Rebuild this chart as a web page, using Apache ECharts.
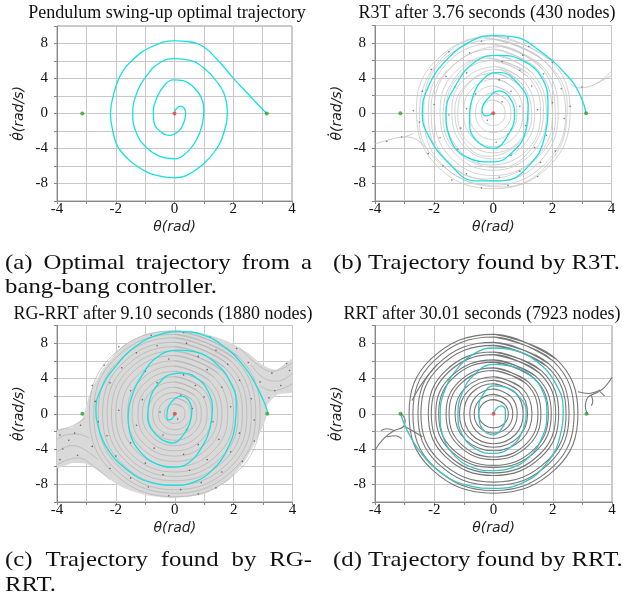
<!DOCTYPE html>
<html><head><meta charset="utf-8">
<script src="https://cdn.jsdelivr.net/npm/echarts@6/dist/echarts.min.js"></script>
<style>html,body{margin:0;padding:0;background:#fff}#c{width:636px;height:601px}</style>
</head><body><div id="c"></div>
<script>
// ---------------- data ----------------
const panelTitles = [
  'Pendulum swing-up optimal trajectory',
  'R3T after 3.76 seconds (430 nodes)',
  'RG-RRT after 9.10 seconds (1880 nodes)',
  'RRT after 30.01 seconds (7923 nodes)'
];
const captionA = [['(a)', 'Optimal', 'trajectory', 'from', 'a'], ['bang-bang controller.']];
const captionB = ['(b) Trajectory found by R3T.'];
const captionC = [['(c)', 'Trajectory', 'found', 'by', 'RG-'], ['RRT.']];
const captionD = ['(d) Trajectory found by RRT.'];
const xName = 'θ(rad)';
const yName = 'θ̇(rad/s)';
const xTicks = [-4, -2, 0, 2, 4];
const yTicks = [-8, -4, 0, 4, 8];
const goalPoints = [[-3.14, 0], [3.14, 0]];
const startPoint = [[0, 0]];

const optimalA = [[0,0],[0.05,0.5],[0.2,0.85],[0.33,0.6],[0.38,0],[0.32,-1.0],[0.15,-2.0],[-0.18,-2.5],[-0.5,-2.0],[-0.7,-1.0],[-0.72,0.3],[-0.6,1.8],[-0.35,3.2],[-0.05,3.85],[0.3,3.75],[0.65,3.0],[0.9,1.9],[1.0,0.5],[0.95,-1.2],[0.75,-3.0],[0.4,-4.5],[0,-5.17],[-0.5,-4.9],[-0.95,-3.9],[-1.3,-2.2],[-1.42,0],[-1.3,2.2],[-0.95,4.3],[-0.5,5.8],[0,6.28],[0.5,6.1],[1.0,5.2],[1.45,3.6],[1.75,1.6],[1.8,0],[1.7,-2.0],[1.4,-4.2],[0.9,-6.0],[0.4,-7.1],[0,-7.35],[-0.5,-7.15],[-1.05,-6.5],[-1.85,-4.2],[-2.1,-2.0],[-2.18,0],[-2.1,1.8],[-1.85,4.3],[-1.4,6.2],[-0.8,7.6],[0,8.3],[0.5,8.2],[1.0,7.6],[1.5,6.0],[2.0,4.05],[2.5,2.25],[2.85,1.0],[3.14,0]];

const cyanB = [[0,0],[-0.25,-0.3],[-0.38,0.3],[-0.2,1.6],[0.2,2.55],[0.55,1.8],[0.72,0],[0.55,-2.2],[0,-4.0],[-0.6,-3.0],[-0.8,-1],[-0.7,1.8],[-0.2,4.3],[0.2,4.65],[0.8,3.5],[1.18,1],[1.1,-2],[0.6,-4.6],[0,-5.55],[-0.9,-5],[-1.5,-2.5],[-1.6,0],[-1.3,3],[-0.6,5.9],[0.2,6.6],[1.0,6],[1.65,4],[1.85,1],[1.75,-2.5],[1.2,-6],[0.3,-7.7],[-0.6,-7.7],[-1.55,-5.5],[-2.2,-2.5],[-2.4,0],[-2.2,3],[-1.6,6],[-0.7,8.3],[0,8.85],[0.7,8.7],[1.5,7.3],[2.5,4.3],[2.95,2.0],[3.14,0]];

const grayB = [
 [[0,8.8],[1.92,6.07],[2.6,0.3],[1.92,-5.93],[0,-8.6],[-1.92,-5.93],[-2.6,0.4],[-1.92,6.07],[0,8.8]],
 [[0.1,8.4],[1.78,5.8],[2.45,0],[1.78,-5.66],[0,-8.2],[-1.78,-5.66],[-2.35,0.3],[-1.78,5.8],[0.1,8.4]],
 [[-0.1,7.9],[1.63,5.45],[2.2,0.2],[1.63,-5.31],[0.1,-7.7],[-1.63,-5.31],[-2.2,0],[-1.63,5.45],[-0.1,7.9]],
 [[0,7.3],[1.48,5.04],[2.0,-0.2],[1.48,-4.9],[0,-7.1],[-1.48,-4.9],[-2.0,0.2],[-1.48,5.04],[0,7.3]],
 [[0.1,6.6],[1.33,4.55],[1.8,0],[1.33,-4.49],[0,-6.5],[-1.33,-4.49],[-1.8,0.1],[-1.33,4.55],[0.1,6.6]],
 [[0,6.0],[1.18,4.14],[1.6,0.2],[1.18,-4.07],[-0.1,-5.9],[-1.18,-4.07],[-1.6,0],[-1.18,4.14],[0,6.0]],
 [[0.1,5.3],[1.04,3.66],[1.4,0],[1.04,-3.59],[0,-5.2],[-1.04,-3.59],[-1.4,0.2],[-1.04,3.66],[0.1,5.3]],
 [[0,4.6],[0.89,3.17],[1.2,0.1],[0.89,-3.11],[0,-4.5],[-0.89,-3.11],[-1.2,0],[-0.89,3.17],[0,4.6]],
 [[0.1,3.9],[0.74,2.69],[1.0,0],[0.74,-2.62],[0,-3.8],[-0.74,-2.62],[-1.0,0.1],[-0.74,2.69],[0.1,3.9]],
 [[0,3.1],[0.59,2.14],[0.8,0],[0.59,-2.07],[0,-3.0],[-0.59,-2.07],[-0.8,0],[-0.59,2.14],[0,3.1]],
 [[0,2.3],[0.44,1.59],[0.6,0],[0.44,-1.52],[0,-2.2],[-0.44,-1.52],[-0.6,0],[-0.44,1.59],[0,2.3]],
 [[0,1.5],[0.3,1.04],[0.4,0],[0.3,-0.97],[0,-1.4],[-0.3,-0.97],[-0.4,0],[-0.3,1.04],[0,1.5]],
 [[-0.3,8.6],[1.6,6.3],[2.5,1.0],[2.0,-5.2],[0.3,-8.4],[-1.6,-6.3],[-2.5,-1.0],[-2.0,5.2],[-0.3,8.6]],
 [[0.3,7.6],[1.7,4.9],[2.1,-0.8],[1.3,-5.6],[-0.3,-7.5],[-1.7,-4.9],[-2.1,0.8],[-1.3,5.6],[0.3,7.6]],
 [[-0.2,6.3],[1.15,4.6],[1.7,0.5],[1.3,-4.0],[0.2,-6.2],[-1.15,-4.6],[-1.7,-0.5],[-1.3,4.0],[-0.2,6.3]],
 [[0.2,5.0],[1.0,3.2],[1.3,-0.4],[0.8,-3.6],[-0.2,-4.9],[-1.0,-3.2],[-1.3,0.4],[-0.8,3.6],[0.2,5.0]]
];
const tailsB = [
 [[-4,-3.5],[-3.5,-3.0],[-3.0,-2.7],[-2.6,-3.0],[-2.2,-4.2]],
 [[-3.0,-2.7],[-2.7,-2.3]],
 [[4,4.8],[3.6,3.6],[3.2,3.0],[2.9,2.9],[2.6,3.4]],
 [[4,4.3],[3.5,3.4]]
];
const dotsB = [[0.5,8.6],[-0.4,8.2],[1.2,7.6],[-1.5,7.0],[2.0,5.8],[-2.1,5.0],[1.0,6.6],[-0.8,6.9],[0.3,5.9],[1.7,4.5],[-1.6,4.2],[2.3,2.8],[-2.4,2.5],[0.9,4.9],[-0.9,4.6],[0.2,3.8],[1.3,3.1],[-1.3,3.0],[2.0,1.2],[-2.0,1.0],[0.6,2.5],[-0.6,2.2],[1.5,0.4],[-1.5,-0.2],[0.9,0.8],[-0.9,0.5],[0.3,1.3],[-0.2,-0.8],[2.4,-0.6],[-2.5,-1.0],[1.1,-1.4],[-1.1,-1.7],[0.5,-2.4],[1.8,-2.5],[-1.8,-2.8],[0.1,-3.3],[1.4,-3.9],[-1.2,-4.1],[2.1,-4.3],[-2.2,-4.6],[0.6,-4.8],[-0.5,-5.5],[1.6,-5.6],[-1.7,-6.0],[0.9,-6.6],[-0.9,-6.9],[0.2,-7.3],[1.5,-7.2],[-1.4,-7.6],[0.5,-8.2],[-0.4,-8.5],[2.6,0.8],[-2.7,0.3],[3.0,3.0],[-3.1,-2.7],[-3.6,-3.2]];

const cyanC = [[0,0],[-0.1,-0.6],[-0.22,-0.7],[-0.27,-0.2],[-0.2,0.9],[0,1.7],[0.2,2.0],[0.45,1.6],[0.58,0.4],[0.5,-1.2],[0.25,-2.6],[-0.05,-3.3],[-0.45,-2.9],[-0.8,-1.7],[-0.92,-0.3],[-0.85,1.6],[-0.55,3.4],[-0.1,4.5],[0.3,4.6],[0.8,3.9],[1.15,2.4],[1.28,0.5],[1.2,-1.6],[0.9,-3.9],[0.45,-5.6],[0,-6.05],[-0.6,-5.7],[-1.15,-4.4],[-1.5,-2.4],[-1.58,-0.5],[-1.45,2.0],[-1.1,4.4],[-0.6,6.4],[0.1,7.2],[0.7,7.0],[1.4,5.7],[1.9,3.5],[2.09,1.2],[2.05,-1.2],[1.8,-3.9],[1.3,-6.3],[0.6,-7.8],[0,-8.1],[-0.8,-7.8],[-1.6,-6.4],[-2.3,-3.9],[-2.62,-1.2],[-2.68,0.4],[-2.5,2.8],[-2.0,5.4],[-1.3,7.7],[-0.5,9.0],[0.2,9.3],[0.9,9.0],[1.6,7.8],[2.3,5.6],[2.75,3.3],[3.05,1.2],[3.17,0]];

const regionC = [[0,9.45],[1.0,9.1],[1.8,8.2],[2.45,7.0],[3.0,5.5],[3.45,5.0],[4,6.2],[4,2.5],[3.5,2.2],[3.15,1.0],[3.1,-0.5],[2.85,-2.5],[2.45,-5.0],[1.8,-7.6],[1.0,-9.1],[0,-9.55],[-1.0,-9.2],[-1.8,-8.3],[-2.5,-6.7],[-3.0,-5.7],[-3.5,-5.6],[-4,-6.1],[-4,-1.9],[-3.5,-1.5],[-3.15,-0.6],[-3.0,1.0],[-2.85,2.6],[-2.45,5.0],[-1.8,7.6],[-1.0,9.0]];

const grayC = [
 [[0,9.4],[2.15,6.49],[2.9,0],[2.15,-6.49],[0,-9.4],[-2.15,-6.49],[-2.9,0],[-2.15,6.49],[0,9.4]],
 [[0,9.0],[2.04,6.21],[2.75,0],[2.04,-6.21],[0,-9.0],[-2.04,-6.21],[-2.75,0],[-2.04,6.21],[0,9.0]],
 [[0,8.6],[1.92,5.93],[2.6,0],[1.92,-5.93],[0,-8.6],[-1.92,-5.93],[-2.6,0],[-1.92,5.93],[0,8.6]],
 [[0,8.1],[1.81,5.59],[2.45,0],[1.81,-5.59],[0,-8.1],[-1.81,-5.59],[-2.45,0],[-1.81,5.59],[0,8.1]],
 [[0,7.6],[1.7,5.24],[2.3,0],[1.7,-5.24],[0,-7.6],[-1.7,-5.24],[-2.3,0],[-1.7,5.24],[0,7.6]],
 [[0,7.1],[1.59,4.9],[2.15,0],[1.59,-4.9],[0,-7.1],[-1.59,-4.9],[-2.15,0],[-1.59,4.9],[0,7.1]],
 [[0,6.6],[1.48,4.55],[2.0,0],[1.48,-4.55],[0,-6.6],[-1.48,-4.55],[-2.0,0],[-1.48,4.55],[0,6.6]],
 [[0,6.0],[1.33,4.14],[1.8,0],[1.33,-4.14],[0,-6.0],[-1.33,-4.14],[-1.8,0],[-1.33,4.14],[0,6.0]],
 [[0,5.4],[1.18,3.73],[1.6,0],[1.18,-3.73],[0,-5.4],[-1.18,-3.73],[-1.6,0],[-1.18,3.73],[0,5.4]],
 [[0,4.8],[1.07,3.31],[1.45,0],[1.07,-3.31],[0,-4.8],[-1.07,-3.31],[-1.45,0],[-1.07,3.31],[0,4.8]],
 [[0,4.2],[0.93,2.9],[1.25,0],[0.93,-2.9],[0,-4.2],[-0.93,-2.9],[-1.25,0],[-0.93,2.9],[0,4.2]],
 [[0,3.6],[0.81,2.48],[1.1,0],[0.81,-2.48],[0,-3.6],[-0.81,-2.48],[-1.1,0],[-0.81,2.48],[0,3.6]],
 [[0,3.0],[0.67,2.07],[0.9,0],[0.67,-2.07],[0,-3.0],[-0.67,-2.07],[-0.9,0],[-0.67,2.07],[0,3.0]],
 [[0,2.4],[0.56,1.66],[0.75,0],[0.56,-1.66],[0,-2.4],[-0.56,-1.66],[-0.75,0],[-0.56,1.66],[0,2.4]],
 [[0,1.8],[0.41,1.24],[0.55,0],[0.41,-1.24],[0,-1.8],[-0.41,-1.24],[-0.55,0],[-0.41,1.24],[0,1.8]],
 [[0,1.1],[0.26,0.76],[0.35,0],[0.26,-0.76],[0,-1.1],[-0.26,-0.76],[-0.35,0],[-0.26,0.76],[0,1.1]]
];
const tailsC = [
 [[2.2,7.5],[2.8,5.6],[3.3,4.8],[3.7,5.2],[4,5.8]],
 [[2.6,5.5],[3.1,3.9],[3.5,3.7],[4,4.6]],
 [[2.9,3.2],[3.3,2.6],[3.7,2.9],[4,3.4]],
 [[-2.2,-7.5],[-2.8,-5.8],[-3.3,-5.0],[-3.7,-5.3],[-4,-5.8]],
 [[-2.6,-5.2],[-3.1,-4.0],[-3.5,-3.6],[-4,-4.3]],
 [[-2.9,-2.8],[-3.3,-2.3],[-3.7,-2.4],[-4,-2.9]],
 [[-3.05,-0.5],[-3.5,-1.4],[-4,-1.9]]
];
const dotsC = [[0.3,9.2],[-0.8,8.9],[1.2,8.7],[-1.9,7.6],[2.1,7.4],[0.4,8.0],[-0.6,7.7],[1.4,7.2],[-1.3,6.9],[2.5,5.8],[-2.4,5.5],[0.8,6.5],[-0.2,6.2],[1.8,5.6],[-1.8,5.2],[2.9,3.6],[-2.8,3.2],[1.1,5.0],[-1.0,4.8],[0.3,4.4],[2.2,3.8],[-2.2,3.5],[1.6,3.0],[-1.5,2.6],[0.7,3.2],[-0.6,3.5],[2.6,1.7],[-2.7,1.4],[1.0,1.9],[-1.1,1.6],[0.2,2.1],[1.9,0.8],[-1.9,0.4],[0.6,0.6],[-0.5,0.2],[0.1,-0.6],[2.7,-0.7],[-2.6,-0.9],[1.3,-0.9],[-1.3,-1.3],[0.4,-1.8],[-0.4,-2.4],[2.2,-2.2],[-2.3,-2.5],[1.5,-2.9],[-1.5,-3.3],[0.8,-3.5],[-0.7,-3.9],[2.7,-3.1],[-2.8,-3.7],[1.9,-4.3],[-2.0,-4.8],[0.3,-4.6],[1.1,-5.2],[-1.0,-5.6],[2.3,-5.4],[-2.2,-6.2],[0.5,-6.4],[-0.4,-6.9],[1.6,-6.6],[-1.5,-7.3],[0.9,-7.8],[-0.9,-8.3],[0.2,-8.6],[1.4,-8.4],[-0.2,-9.3],[0.8,-9.1],[3.3,4.6],[3.6,3.2],[3.9,4.9],[3.4,2.6],[3.8,5.7],[3.2,1.8],[-3.3,-4.7],[-3.6,-3.0],[-3.9,-5.2],[-3.4,-2.2],[-3.8,-4.0],[-3.2,-1.3],[-3.9,-2.4]];

const cyanD = [[0,0],[0.1,0.6],[0.25,0.9],[0.4,0.4],[0.4,-0.6],[0.25,-1.8],[0,-2.4],[-0.3,-2.0],[-0.48,-0.8],[-0.5,0.6],[-0.35,2.2],[0,3.15],[0.4,3.0],[0.85,2.0],[1.1,0.3],[1.0,-1.8],[0.6,-3.7],[0,-4.5],[-0.6,-4.0],[-1.05,-2.4],[-1.2,-0.2],[-1.05,2.4],[-0.6,4.6],[0,5.6],[0.6,5.4],[1.3,4.2],[1.7,2.2],[1.8,0],[1.65,-2.6],[1.2,-4.9],[0.55,-6.2],[0,-6.45],[-0.7,-6.1],[-1.3,-4.8],[-1.7,-2.6],[-1.8,-0.2],[-1.65,2.6],[-1.2,5.2],[-0.6,6.9],[0,7.45],[0.7,7.2],[1.5,5.8],[2.1,3.4],[2.35,0.6],[2.25,-2.5],[1.8,-5.6],[1.0,-7.8],[0,-8.45],[-0.9,-8.1],[-1.8,-6.6],[-2.5,-4.2],[-2.9,-2.0],[-3.14,0]];

const grayD = [
 [[0,9.0],[2.11,6.21],[2.85,0],[2.11,-6.21],[0,-9.0],[-2.11,-6.21],[-2.85,0],[-2.11,6.21],[0,9.0]],
 [[0,8.7],[2.01,6.0],[2.72,0],[2.01,-6.0],[0,-8.7],[-2.01,-6.0],[-2.72,0],[-2.01,6.0],[0,8.7]],
 [[0,8.1],[1.89,5.59],[2.55,0],[1.89,-5.59],[0,-8.1],[-1.89,-5.59],[-2.55,0],[-1.89,5.59],[0,8.1]],
 [[0,7.75],[1.81,5.35],[2.45,0],[1.81,-5.35],[0,-7.75],[-1.81,-5.35],[-2.45,0],[-1.81,5.35],[0,7.75]],
 [[0,7.0],[1.63,4.83],[2.2,0],[1.63,-4.83],[0,-7.0],[-1.63,-4.83],[-2.2,0],[-1.63,4.83],[0,7.0]],
 [[0,6.7],[1.55,4.62],[2.1,0],[1.55,-4.62],[0,-6.7],[-1.55,-4.62],[-2.1,0],[-1.55,4.62],[0,6.7]],
 [[0,6.1],[1.44,4.21],[1.95,0],[1.44,-4.21],[0,-6.1],[-1.44,-4.21],[-1.95,0],[-1.44,4.21],[0,6.1]],
 [[0,5.85],[1.37,4.04],[1.85,0],[1.37,-4.04],[0,-5.85],[-1.37,-4.04],[-1.85,0],[-1.37,4.04],[0,5.85]],
 [[0,5.2],[1.18,3.59],[1.6,0],[1.18,-3.59],[0,-5.2],[-1.18,-3.59],[-1.6,0],[-1.18,3.59],[0,5.2]],
 [[0,4.9],[1.11,3.38],[1.5,0],[1.11,-3.38],[0,-4.9],[-1.11,-3.38],[-1.5,0],[-1.11,3.38],[0,4.9]],
 [[0,4.2],[0.96,2.9],[1.3,0],[0.96,-2.9],[0,-4.2],[-0.96,-2.9],[-1.3,0],[-0.96,2.9],[0,4.2]],
 [[0,3.8],[0.85,2.62],[1.15,0],[0.85,-2.62],[0,-3.8],[-0.85,-2.62],[-1.15,0],[-0.85,2.62],[0,3.8]],
 [[0,3.4],[0.74,2.35],[1.0,0],[0.74,-2.35],[0,-3.4],[-0.74,-2.35],[-1.0,0],[-0.74,2.35],[0,3.4]],
 [[0,2.8],[0.59,1.93],[0.8,0],[0.59,-1.93],[0,-2.8],[-0.59,-1.93],[-0.8,0],[-0.59,1.93],[0,2.8]],
 [[0,2.2],[0.48,1.52],[0.65,0],[0.48,-1.52],[0,-2.2],[-0.48,-1.52],[-0.65,0],[-0.48,1.52],[0,2.2]],
 [[0,1.6],[0.37,1.1],[0.5,0],[0.37,-1.1],[0,-1.6],[-0.37,-1.1],[-0.5,0],[-0.37,1.1],[0,1.6]]
];
const tailsD = [
 [[-3.12,0.05],[-2.98,-0.8],[-3.05,-1.5],[-3.35,-1.9],[-3.7,-2.8],[-4,-4.1]],
 [[-3.35,-1.9],[-3.6,-1.7],[-3.8,-1.9]],
 [[-3.0,-1.45],[-2.75,-1.9],[-2.4,-2.6]],
 [[-3.6,-2.6],[-3.3,-2.5],[-3.1,-2.8]],
 [[3.17,0],[3.1,0.8],[3.2,1.9],[3.5,2.4],[3.75,3.0],[4,4.1]],
 [[2.85,2.5],[3.2,2.3],[3.6,2.7]],
 [[3.3,2.1],[3.35,1.4],[3.3,0.9]],
 [[3.6,2.5],[3.75,2.0]],
 [[-2.75,1.5],[-2.4,3.5],[-1.9,5.6]]
];

// ---------------- layout ----------------
const grids = [
  {left: 57, top: 26, width: 235, height: 175},
  {left: 375, top: 25.5, width: 236.5, height: 175.5},
  {left: 57, top: 325.5, width: 235.5, height: 176.5},
  {left: 375, top: 325.5, width: 237, height: 176.5}
];
const titlePos = [[167, 13.5], [487, 13.5], [163, 314], [482, 314]];
const CYAN = '#19e0e0';
const serif = '"Liberation Serif", "Times New Roman", serif';

const xAxes = [], yAxes = [];
grids.forEach((g, i) => {
  xAxes.push({
    type: 'value', gridIndex: i, min: -4, max: 4, interval: 1,
    axisLine: {show: true, onZero: false, lineStyle: {color: '#888', width: 1}},
    axisTick: {show: true, length: 3, lineStyle: {color: '#888'}},
    axisLabel: {formatter: v => xTicks.includes(v) ? String(v) : '', fontFamily: serif, fontSize: 15, color: '#111', margin: 1},
    splitLine: {show: true, lineStyle: {color: '#c8c8c8', width: 1}},
    name: xName, nameLocation: 'middle', nameGap: 19,
    nameTextStyle: {fontFamily: 'DejaVu Sans', fontStyle: 'italic', fontSize: 14, color: '#222'}
  });
  yAxes.push({
    type: 'value', gridIndex: i, min: -10, max: 10, interval: 2,
    axisLine: {show: true, onZero: false, lineStyle: {color: '#888', width: 1}},
    axisTick: {show: true, length: 3, lineStyle: {color: '#888'}},
    axisLabel: {formatter: v => yTicks.includes(v) ? String(v) : '', fontFamily: serif, fontSize: 15, color: '#111', margin: 9},
    splitLine: {show: true, lineStyle: {color: '#c8c8c8', width: 1}},
    name: yName, nameLocation: 'middle', nameGap: 31, nameRotate: 90,
    nameTextStyle: {fontFamily: 'DejaVu Sans', fontStyle: 'italic', fontSize: 14, color: '#222'}
  });
});

const series = [];
function addLine(i, data, color, width, z, smooth) {
  series.push({type: 'line', xAxisIndex: i, yAxisIndex: i, data: data, smooth: smooth === undefined ? 0.4 : smooth,
    showSymbol: false, symbol: 'none', lineStyle: {color: color, width: width}, z: z, silent: true, animation: false});
}
// closed loops: repeat the second point so the join at the top is smooth too
function addRing(i, ring, color, width) {
  addLine(i, ring.concat([ring[1]]), color, width, 3, 0.42);
}
function addDots(i, data, color, size, z) {
  series.push({type: 'scatter', xAxisIndex: i, yAxisIndex: i, data: data, symbolSize: size,
    itemStyle: {color: color}, z: z, silent: true, animation: false});
}
function addMarkers(i) {
  addDots(i, goalPoints, '#2ca02c', 4, 20);
  addDots(i, startPoint, '#e04040', 4, 20);
}

// (a)
addLine(0, optimalA, CYAN, 1.3, 10, 0.45);
addMarkers(0);
// (b)
grayB.forEach(r => addRing(1, r, '#c8c8c8', 0.8));
tailsB.forEach(r => addLine(1, r, '#c0c0c0', 0.8, 3));
addDots(1, dotsB, '#555', 1.6, 5);
addLine(1, cyanB, CYAN, 1.3, 10, 0.45);
addMarkers(1);
// (c)
series.push({
  type: 'custom', xAxisIndex: 2, yAxisIndex: 2, data: regionC, silent: true, animation: false, z: 1,
  renderItem: (params, api) => {
    if (params.dataIndex !== 0) return null;
    const cs = params.coordSys;
    const pts = regionC.map(p => api.coord(p));
    return {type: 'polygon', shape: {points: pts, smooth: 0.2}, style: {fill: '#d9d9d9'},
      clipPath: {type: 'rect', shape: {x: cs.x, y: cs.y, width: cs.width, height: cs.height}}};
  }
});
grayC.forEach(r => addRing(2, r, '#ababab', 0.6));
tailsC.forEach(r => addLine(2, r, '#ababab', 0.6, 3));
addDots(2, dotsC, '#4a4a4a', 1.6, 5);
addLine(2, cyanC, CYAN, 1.3, 10, 0.45);
addMarkers(2);
// (d)
grayD.forEach(r => addRing(3, r, '#777777', 1.1));
tailsD.forEach(r => addLine(3, r, '#777777', 1.1, 3));
addLine(3, cyanD, '#3cc0c0', 1.3, 10, 0.45);
addMarkers(3);

// ---------------- text ----------------
const graphics = [];
panelTitles.forEach((t, i) => {
  graphics.push({type: 'text', x: titlePos[i][0], y: titlePos[i][1], silent: true,
    style: {text: t, font: '18px ' + serif, fill: '#111', align: 'center', verticalAlign: 'middle', textAlign: 'center', textVerticalAlign: 'middle'}});
});
const capFont = '21px ' + serif;
const capScale = 1.18;
const mctx = document.createElement('canvas').getContext('2d');
mctx.font = capFont;
function capText(text, x, y) {
  graphics.push({type: 'text', x: x, y: y, scaleX: capScale, silent: true,
    style: {text: text, font: capFont, fill: '#111', x: 0, y: 0, align: 'left', verticalAlign: 'middle', textAlign: 'left', textVerticalAlign: 'middle'}});
}
function justified(words, left, right, y) {
  const ws = words.map(w => mctx.measureText(w).width * capScale);
  const total = ws.reduce((a, b) => a + b, 0);
  const gap = (right - left - total) / (words.length - 1);
  let x = left;
  words.forEach((w, k) => { capText(w, x, y); x += ws[k] + gap; });
}
justified(captionA[0], 5, 312, 263.5);
capText(captionA[1][0], 5, 287.5);
capText(captionB[0], 333, 263.5);
justified(captionC[0], 5, 312, 560.5);
capText(captionC[1][0], 5, 585.5);
capText(captionD[0], 333, 560.5);

const chart = echarts.init(document.getElementById('c'), null, {renderer: 'canvas', width: 636, height: 601});
chart.setOption({
  backgroundColor: '#fff',
  animation: false,
  grid: grids.map(g => Object.assign({show: true, borderColor: '#999', borderWidth: 1, containLabel: false}, g)),
  xAxis: xAxes,
  yAxis: yAxes,
  series: series,
  graphic: graphics
});
</script></body></html>
